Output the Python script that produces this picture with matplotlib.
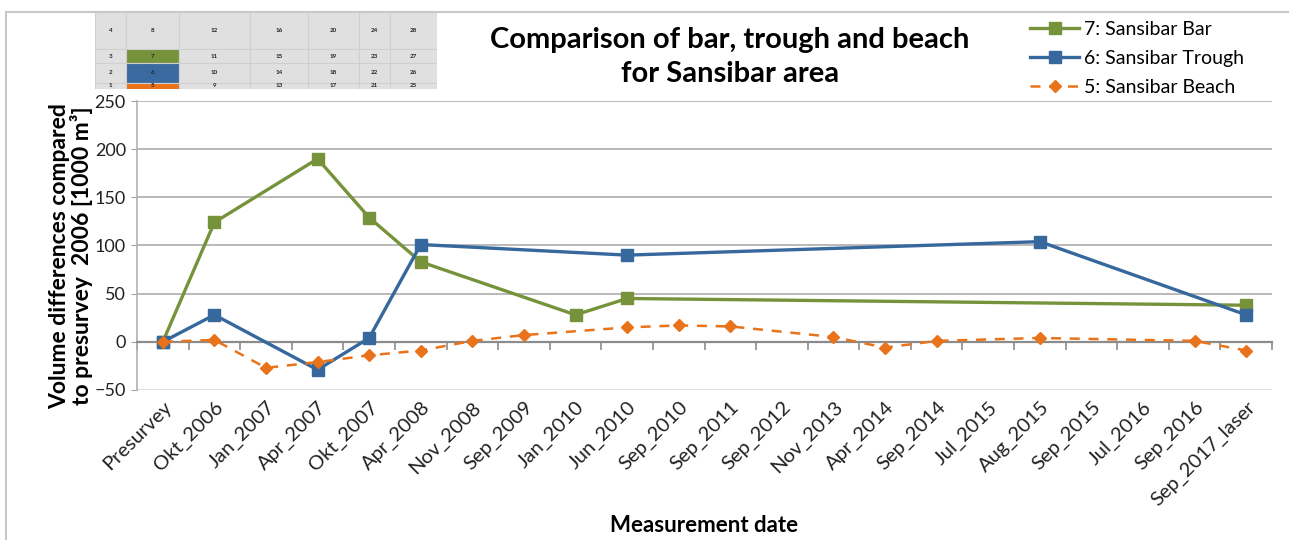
"""Volume change of bar, trough and beach units in the Sansibar area,
relative to the 2006 presurvey, per measurement campaign."""

import numpy as np
import matplotlib.pyplot as plt
from matplotlib.lines import Line2D

plt.rcParams["font.family"] = ["Lato", "DejaVu Sans"]

DATES = ["Presurvey", "Okt_2006", "Jan_2007", "Apr_2007", "Okt_2007", "Apr_2008",
         "Nov_2008", "Sep_2009", "Jan_2010", "Jun_2010", "Sep_2010", "Sep_2011",
         "Sep_2012", "Nov_2013", "Apr_2014", "Sep_2014", "Jul_2015", "Aug_2015",
         "Sep_2015", "Jul_2016", "Sep_2016", "Sep_2017_laser"]

nan = np.nan
# volume differences in 1000 m^3, nan = unit not surveyed on that date
BAR = [0, 124, nan, 190, 129, 83, nan, nan, 28, 45, nan, nan,
       nan, nan, nan, nan, nan, nan, nan, nan, nan, 38]
TROUGH = [0, 28, nan, -29, 4, 101, nan, nan, nan, 90, nan, nan,
          nan, nan, nan, nan, nan, 104, nan, nan, nan, 28]
BEACH = [0, 2, -27, -21, -14, -9, 1, 7, nan, 15, 17, 16,
         nan, 5, -6, 1, nan, 4, nan, nan, 1, -9]

# profile numbering of the overview sketch (top row first)
GRID_NUMS = [[4, 8, 12, 16, 20, 24, 28],
             [3, 7, 11, 15, 19, 23, 27],
             [2, 6, 10, 14, 18, 22, 26],
             [1, 5, 9, 13, 17, 21, 25]]
GRID_FILL = {7: "#76933c", 6: "#3b6aa0", 5: "#e8731a"}

GREEN, BLUE, ORANGE = "#76933c", "#36679d", "#e8731a"

W, H = 1289, 540
fig = plt.figure(figsize=(W / 100, H / 100), dpi=100)
ax = fig.add_axes([137 / W, 1 - 390 / H, (1272 - 137) / W, (390 - 101) / H])


def plot_series(values, **kw):
    v = np.asarray(values, dtype=float)
    idx = np.flatnonzero(~np.isnan(v))
    return ax.plot(idx, v[idx], **kw)[0]


h_bar = plot_series(BAR, color=GREEN, lw=2.4, marker="s", ms=8.5,
                    label="7: Sansibar Bar", zorder=4)
h_tr = plot_series(TROUGH, color=BLUE, lw=2.4, marker="s", ms=8.5,
                   label="6: Sansibar Trough", zorder=5)
h_be = plot_series(BEACH, color=ORANGE, lw=1.8, ls=(0, (4, 3.5)), marker="D",
                   ms=6, label="5: Sansibar Beach", zorder=6)

ax.set_xlim(-0.5, len(DATES) - 0.5)
ax.set_ylim(-50, 250)
ax.set_yticks(range(-50, 251, 50))
ax.tick_params(axis="y", labelsize=13, length=4, color="#a6a6a6",
               labelcolor="#222222", pad=4)
ax.grid(axis="y", color="#b9b9b9", lw=1.4)
ax.get_ygridlines()[0].set_color("#dddddd")
ax.set_axisbelow(True)

for side in ("top", "right"):
    ax.spines[side].set_visible(False)
ax.spines["left"].set_color("#b0b0b0")
ax.spines["left"].set_linewidth(1.2)

# category axis crosses at zero, ticks between categories
ax.spines["bottom"].set_position(("data", 0))
ax.spines["bottom"].set_color("#8c8c8c")
ax.spines["bottom"].set_linewidth(1.6)
ax.set_xticks(np.arange(len(DATES) + 1) - 0.5)
ax.tick_params(axis="x", length=6, width=1.2, color="#8c8c8c",
               labelbottom=False)

sec = ax.secondary_xaxis("bottom")
sec.set_xticks(range(len(DATES)))
sec.set_xticklabels(DATES, rotation=45, ha="right", rotation_mode="anchor",
                    fontsize=14.5, color="#222222")
sec.tick_params(length=0, pad=6)
sec.spines["bottom"].set_visible(False)

ax.set_ylabel("Volume differences compared\nto presurvey  2006 [1000 m³]",
              fontsize=16.5, fontweight="bold", labelpad=1, linespacing=1.0)
ax.yaxis.label.set_y(0.465)
sec.set_xlabel("Measurement date", fontsize=16, fontweight="bold", labelpad=4)

fig.text(730 / W, 1 - 57 / H, "Comparison of bar, trough and beach\nfor Sansibar area",
         ha="center", va="center", fontsize=21, fontweight="bold",
         linespacing=1.38)

fig.legend(handles=[h_bar, h_tr, h_be], loc="upper left",
           bbox_to_anchor=(1022 / W, 1 - 13 / H), frameon=False,
           fontsize=14, handlelength=2.55, handletextpad=0.25,
           labelspacing=0.62, borderaxespad=0)

# chart frame
fig.add_artist(Line2D([6 / W, 1], [1 - 12 / H] * 2, color="#c8c8c8", lw=1.5))
fig.add_artist(Line2D([6 / W] * 2, [0, 1 - 12 / H], color="#c8c8c8", lw=1.5))

# overview sketch of the profile cells
col_edges = [0, 31, 84, 155, 213, 264, 295, 342]
row_edges = [0, 37, 51, 71, 92]
ins = fig.add_axes([95 / W, 1 - 89 / H, 342 / W, 77 / H])
ins.set_xlim(0, col_edges[-1])
ins.set_ylim(77, 0)
ins.axis("off")
for r, row in enumerate(GRID_NUMS):
    for c, num in enumerate(row):
        x0, x1 = col_edges[c], col_edges[c + 1]
        y0, y1 = row_edges[r], row_edges[r + 1]
        ins.add_patch(plt.Rectangle((x0, y0), x1 - x0, y1 - y0,
                                    facecolor=GRID_FILL.get(num, "#e0e0e0"),
                                    edgecolor="#cfcfcf", lw=0.8))
        ty = (y0 + y1) / 2 if r < 3 else y0 + 3
        ins.text((x0 + x1) / 2, ty, str(num), fontsize=4.5, ha="center",
                 va="center", color="#222222", fontweight="bold", clip_on=True)

fig.savefig("out.png", dpi=100)
